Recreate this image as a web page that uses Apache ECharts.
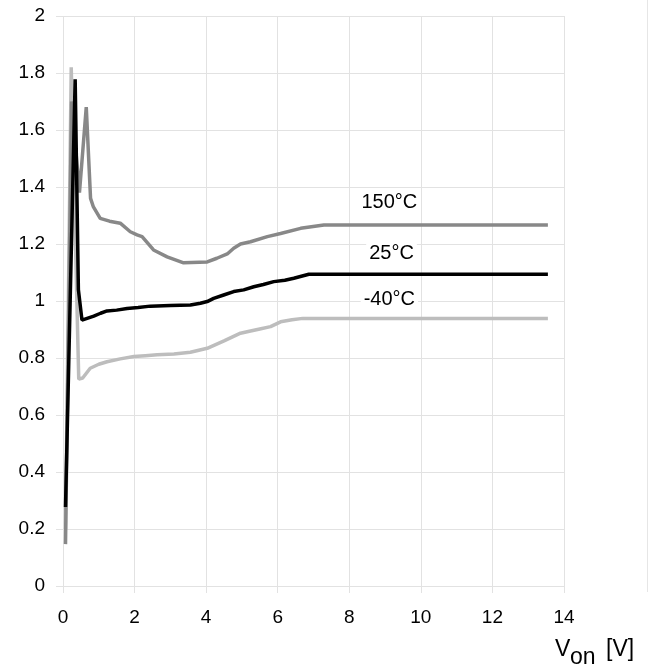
<!DOCTYPE html>
<html>
<head>
<meta charset="utf-8">
<script src="https://cdn.jsdelivr.net/npm/echarts@6/dist/echarts.min.js"></script>
<style>
html,body{margin:0;padding:0;background:#fff;}
#chart{width:653px;height:670px;}
</style>
</head>
<body>
<div id="chart"></div>
<script>
// ---- data ----
var xTicks = [0, 2, 4, 6, 8, 10, 12, 14];
var yTicks = [0, 0.2, 0.4, 0.6, 0.8, 1, 1.2, 1.4, 1.6, 1.8, 2];

var seriesNames = ['-40°C', '150°C', '25°C'];

var xMinus40 = [0.07, 0.23, 0.44, 0.55, 0.76, 1.0, 1.23, 1.6, 1.98, 2.3, 2.63, 3.1, 3.56, 4.03, 4.5, 4.96, 5.24, 5.5, 5.8, 6.08, 6.4, 6.7, 13.55];
var yMinus40 = [0.2, 1.82, 0.726, 0.73, 0.764, 0.778, 0.787, 0.797, 0.805, 0.808, 0.811, 0.814, 0.82, 0.834, 0.86, 0.887, 0.895, 0.902, 0.91, 0.927, 0.934, 0.939, 0.939];

var x150 = [0.07, 0.24, 0.46, 0.65, 0.77, 0.85, 1.04, 1.3, 1.6, 1.88, 2.07, 2.21, 2.53, 2.91, 3.37, 4.03, 4.3, 4.59, 4.77, 4.96, 5.24, 5.71, 6.08, 6.64, 7.29, 13.55];
var y150 = [0.147, 1.7, 1.38, 1.68, 1.36, 1.33, 1.29, 1.28, 1.273, 1.243, 1.232, 1.226, 1.179, 1.155, 1.134, 1.137, 1.15, 1.165, 1.185, 1.2, 1.208, 1.226, 1.237, 1.255, 1.267, 1.267];

var x25 = [0.07, 0.34, 0.43, 0.53, 0.86, 1.05, 1.23, 1.5, 1.79, 2.1, 2.44, 3.0, 3.56, 3.84, 4.03, 4.21, 4.49, 4.77, 5.05, 5.33, 5.6, 5.89, 6.2, 6.45, 6.87, 13.55];
var y25 = [0.277, 1.778, 1.04, 0.933, 0.947, 0.957, 0.965, 0.968, 0.974, 0.977, 0.982, 0.984, 0.986, 0.992, 0.998, 1.009, 1.021, 1.033, 1.039, 1.05, 1.058, 1.068, 1.073, 1.08, 1.094, 1.094];

// label anchor points (data coords)
var labelMinus40 = [9.12, 1.007];
var label150 = [9.12, 1.344];
var label25 = [9.18, 1.168];

function pairs(xs, ys) {
  var out = [];
  for (var i = 0; i < xs.length; i++) out.push([xs[i], ys[i]]);
  return out;
}

var FONT = 'Liberation Sans, Arial, Helvetica, sans-serif';
var GRID = '#e2e2e2';

function mkSeries(name, xs, ys, color, lab) {
  return {
    name: name,
    type: 'line',
    data: pairs(xs, ys),
    showSymbol: false,
    symbol: 'none',
    lineStyle: { color: color, width: 3.5 },
    itemStyle: { color: color },
    animation: false,
    markPoint: {
      symbol: 'rect',
      symbolSize: 0,
      animation: false,
      data: [{ coord: lab }],
      label: {
        show: true,
        position: 'inside',
        formatter: name,
        color: '#000',
        fontSize: 20,
        fontFamily: FONT,
        backgroundColor: '#fff',
        padding: [1, 3]
      }
    }
  };
}

var chart = echarts.init(document.getElementById('chart'), null, { renderer: 'canvas' });
chart.setOption({
  backgroundColor: '#fff',
  animation: false,
  grid: { left: 63, right: 89, top: 16, bottom: 84, containLabel: false },
  xAxis: {
    type: 'value',
    min: xTicks[0], max: xTicks[xTicks.length - 1], interval: 2,
    axisLine: { show: false },
    axisTick: { show: true, length: 7, lineStyle: { color: GRID, width: 1 } },
    splitLine: { show: true, lineStyle: { color: GRID, width: 1 } },
    axisLabel: { fontSize: 19, color: '#000', fontFamily: FONT, margin: 22 }
  },
  yAxis: {
    type: 'value',
    min: yTicks[0], max: yTicks[yTicks.length - 1], interval: 0.2,
    axisLine: { show: false },
    axisTick: { show: true, length: 7, lineStyle: { color: GRID, width: 1 } },
    splitLine: { show: true, lineStyle: { color: GRID, width: 1 } },
    axisLabel: { fontSize: 19, color: '#000', fontFamily: FONT, margin: 18,
      formatter: function (v) { return String(Math.round(v * 10) / 10); } }
  },
  series: [
    mkSeries(seriesNames[0], xMinus40, yMinus40, '#bdbdbd', labelMinus40),
    mkSeries(seriesNames[1], x150, y150, '#888888', label150),
    mkSeries(seriesNames[2], x25, y25, '#000000', label25)
  ],
  graphic: [
    { type: 'text', left: 555, top: 638, style: { text: 'V', font: '23px ' + FONT, fill: '#000' } },
    { type: 'text', left: 570, top: 646, style: { text: 'on', font: '23px ' + FONT, fill: '#000' } },
    { type: 'text', left: 606, top: 638, style: { text: '[V]', font: '23px ' + FONT, fill: '#000' } },
    { type: 'line', shape: { x1: 647.5, y1: 0, x2: 647.5, y2: 592 }, style: { stroke: '#e6e6e6', lineWidth: 1 } }
  ]
});
</script>
</body>
</html>
